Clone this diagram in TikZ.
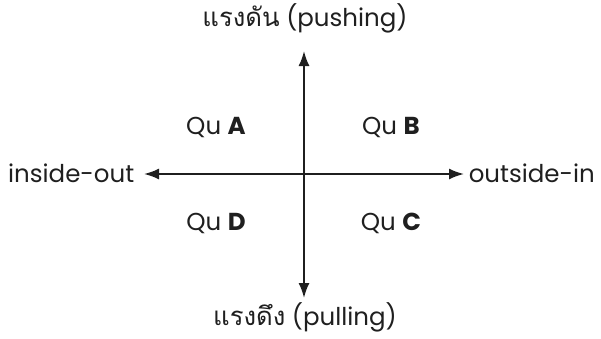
\documentclass[tikz,border=0pt]{standalone}
\usepackage{fontspec}
\setmainfont{Poppins}
\newfontfamily\thaifont[Script=Thai,Scale=1.05]{Loma}
\usetikzlibrary{arrows.meta}
\begin{document}
\begin{tikzpicture}[x=1pt,y=-1pt,
  lbl/.style={font=\fontsize{24.5}{28}\selectfont, text=black!88, inner sep=0pt},
  axis/.style={line width=1.9pt, draw=black!88, -{Latex[length=15pt,width=11pt]}}]
\useasboundingbox (0,0) rectangle (601,338);
\coordinate (o) at (304,174);
\node[lbl] (top) at (305,18) {{\thaifont แรงดัน} (pushing)};
\node[lbl, anchor=base] (bot) at (305,325) {{\thaifont แรงดึง} (pulling)};
\node[lbl, anchor=west] (left) at (8,173) {inside-out};
\node[lbl, anchor=east] (right) at (595,173) {outside-in};
\node[lbl] (qa) at (216,127) {Qu \textbf{A}};
\node[lbl] (qb) at (391,127) {Qu \textbf{B}};
\node[lbl] (qd) at (216,223) {Qu \textbf{D}};
\node[lbl] (qc) at (391,223) {Qu \textbf{C}};
\coordinate (vt) at (304,51);
\coordinate (vb) at (304,298);
\coordinate (hl) at (144,174);
\coordinate (hr) at (464,174);
\draw[axis] (o) -- (vt);
\draw[axis] (o) -- (vb);
\draw[axis] (o) -- (hl);
\draw[axis] (o) -- (hr);
\end{tikzpicture}
\end{document}
